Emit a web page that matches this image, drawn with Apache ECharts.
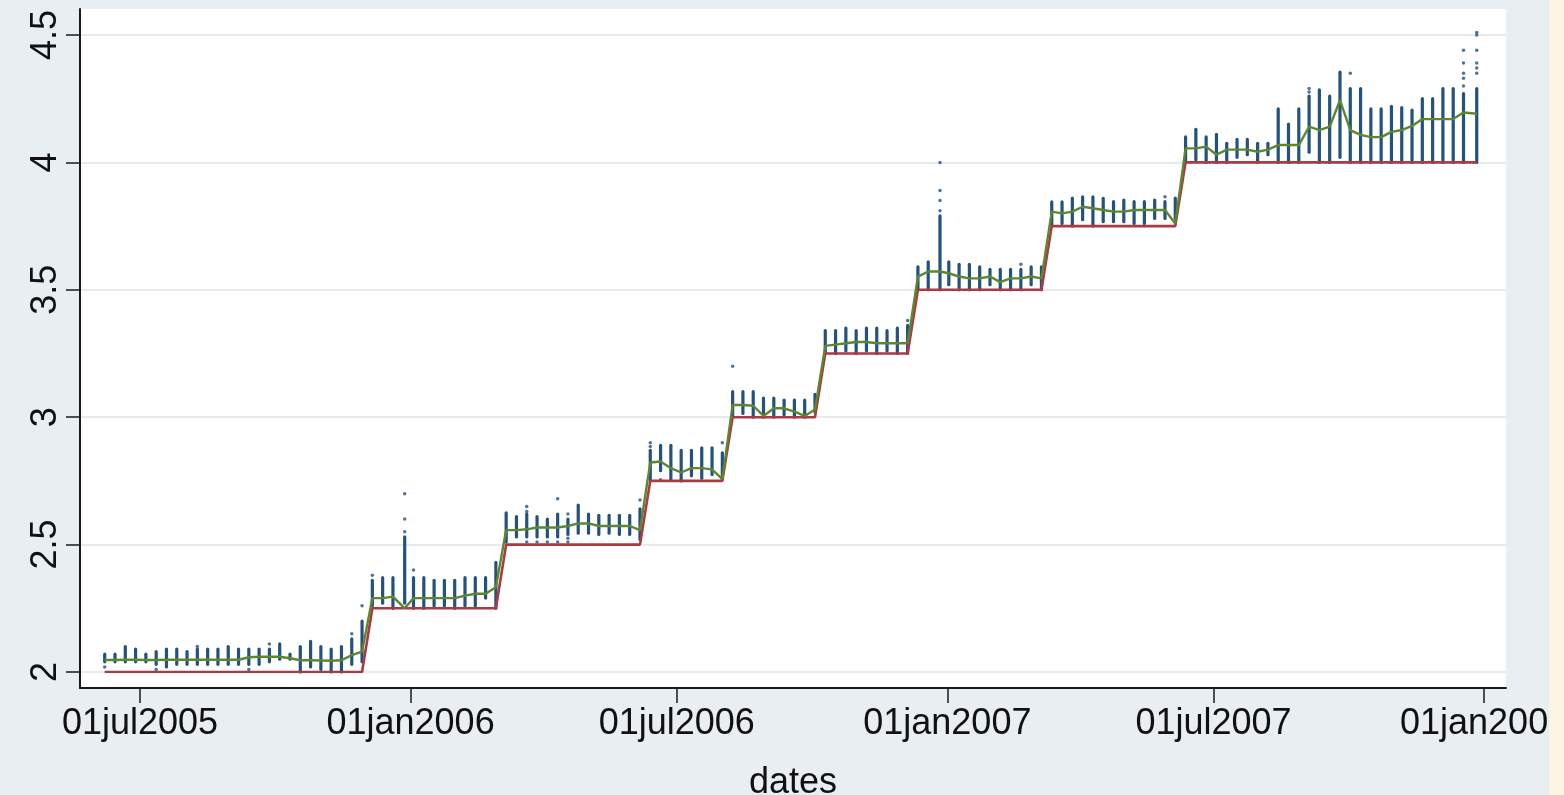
<!DOCTYPE html>
<html>
<head>
<meta charset="utf-8">
<script src="https://cdn.jsdelivr.net/npm/echarts@6/dist/echarts.min.js"></script>
<style>
  html, body { margin: 0; padding: 0; background: #e8eef1; }
  #chart { width: 1564px; height: 795px; }
</style>
</head>
<body>
<div id="chart"></div>
<script>
// Weekly main refinancing operations: allotment dates
const auctionDates = [
  '2005-06-07','2005-06-14','2005-06-21','2005-06-28','2005-07-05','2005-07-12','2005-07-19','2005-07-26',
  '2005-08-02','2005-08-09','2005-08-16','2005-08-23','2005-08-30','2005-09-06','2005-09-13','2005-09-20',
  '2005-09-27','2005-10-04','2005-10-11','2005-10-18','2005-10-25','2005-11-01','2005-11-08','2005-11-15',
  '2005-11-22','2005-11-29','2005-12-06','2005-12-13','2005-12-20','2005-12-28','2006-01-03','2006-01-10',
  '2006-01-17','2006-01-24','2006-01-31','2006-02-07','2006-02-14','2006-02-21','2006-02-28','2006-03-07',
  '2006-03-14','2006-03-21','2006-03-28','2006-04-04','2006-04-11','2006-04-18','2006-04-25','2006-05-02',
  '2006-05-09','2006-05-16','2006-05-23','2006-05-30','2006-06-06','2006-06-13','2006-06-20','2006-06-27',
  '2006-07-04','2006-07-11','2006-07-18','2006-07-25','2006-08-01','2006-08-08','2006-08-15','2006-08-22',
  '2006-08-29','2006-09-05','2006-09-12','2006-09-19','2006-09-26','2006-10-03','2006-10-10','2006-10-17',
  '2006-10-24','2006-10-31','2006-11-07','2006-11-14','2006-11-21','2006-11-28','2006-12-05','2006-12-12',
  '2006-12-19','2006-12-27','2007-01-02','2007-01-09','2007-01-16','2007-01-23','2007-01-30','2007-02-06',
  '2007-02-13','2007-02-20','2007-02-27','2007-03-06','2007-03-13','2007-03-20','2007-03-27','2007-04-03',
  '2007-04-10','2007-04-17','2007-04-24','2007-05-01','2007-05-08','2007-05-15','2007-05-22','2007-05-29',
  '2007-06-05','2007-06-12','2007-06-19','2007-06-26','2007-07-03','2007-07-10','2007-07-17','2007-07-24',
  '2007-07-31','2007-08-07','2007-08-14','2007-08-21','2007-08-28','2007-09-04','2007-09-11','2007-09-18',
  '2007-09-25','2007-10-02','2007-10-09','2007-10-16','2007-10-23','2007-10-30','2007-11-06','2007-11-13',
  '2007-11-20','2007-11-27','2007-12-04','2007-12-11','2007-12-18','2007-12-27'
];

// Minimum bid rate (policy rate) at each operation
const minBidRate = [
  2.00,2.00,2.00,2.00,2.00,2.00,2.00,2.00,2.00,2.00,2.00,2.00,2.00,2.00,2.00,2.00,2.00,2.00,2.00,2.00,2.00,2.00,2.00,2.00,2.00,2.00,
  2.25,2.25,2.25,2.25,2.25,2.25,2.25,2.25,2.25,2.25,2.25,2.25,2.25,
  2.50,2.50,2.50,2.50,2.50,2.50,2.50,2.50,2.50,2.50,2.50,2.50,2.50,2.50,
  2.75,2.75,2.75,2.75,2.75,2.75,2.75,2.75,
  3.00,3.00,3.00,3.00,3.00,3.00,3.00,3.00,3.00,
  3.25,3.25,3.25,3.25,3.25,3.25,3.25,3.25,3.25,
  3.50,3.50,3.50,3.50,3.50,3.50,3.50,3.50,3.50,3.50,3.50,3.50,3.50,
  3.75,3.75,3.75,3.75,3.75,3.75,3.75,3.75,3.75,3.75,3.75,3.75,3.75,
  4.00,4.00,4.00,4.00,4.00,4.00,4.00,4.00,4.00,4.00,4.00,4.00,4.00,4.00,4.00,4.00,4.00,4.00,4.00,4.00,
  4.00,4.00,4.00,4.00,4.00,4.00,4.00,4.00,4.00
];

// Weighted average allotment rate
const meanRate = [
  2.047,2.047,2.048,2.048,2.047,2.047,2.048,2.048,2.048,2.048,2.048,2.048,2.048,2.048,2.058,2.060,2.060,2.060,2.054,2.046,2.046,2.045,2.044,2.046,2.066,2.080,
  2.290,2.290,2.296,2.250,2.290,2.290,2.290,2.290,2.290,2.300,2.307,2.307,2.333,
  2.557,2.557,2.560,2.567,2.567,2.567,2.573,2.583,2.583,2.573,2.573,2.573,2.573,2.557,
  2.822,2.826,2.800,2.783,2.800,2.800,2.795,2.757,
  3.048,3.048,3.045,3.005,3.035,3.035,3.022,3.005,3.030,
  3.280,3.285,3.290,3.295,3.295,3.290,3.290,3.290,3.290,
  3.552,3.572,3.572,3.565,3.552,3.545,3.545,3.552,3.530,3.545,3.545,3.552,3.545,
  3.807,3.800,3.807,3.826,3.820,3.813,3.807,3.807,3.813,3.813,3.813,3.813,3.760,
  4.055,4.055,4.062,4.030,4.050,4.050,4.050,4.042,4.050,4.068,4.068,4.068,4.140,4.127,4.140,4.244,4.127,4.108,4.099,4.099,
  4.120,4.127,4.143,4.170,4.170,4.170,4.170,4.196,4.191
];

// Range of submitted bid rates (lowest / highest of the dense block)
const bidLow = [
  2.04,2.04,2.04,2.04,2.04,2.03,2.02,2.03,2.03,2.03,2.03,2.03,2.03,2.03,2.03,2.03,2.04,2.05,2.05,2.00,2.02,2.01,2.00,2.00,2.03,2.04,
  2.26,2.27,2.25,2.27,2.25,2.25,2.26,2.26,2.25,2.26,2.26,2.29,2.25,
  2.51,2.53,2.53,2.53,2.53,2.53,2.54,2.545,2.545,2.54,2.545,2.54,2.54,2.52,
  2.755,2.79,2.755,2.75,2.77,2.76,2.775,2.755,
  3.00,3.015,3.00,3.00,3.00,3.01,3.00,3.00,3.02,
  3.25,3.25,3.26,3.25,3.26,3.25,3.26,3.25,3.25,
  3.50,3.50,3.50,3.52,3.50,3.50,3.50,3.52,3.50,3.50,3.50,3.52,3.50,
  3.75,3.76,3.75,3.775,3.75,3.767,3.767,3.767,3.76,3.76,3.78,3.78,3.78,
  4.00,4.01,4.00,4.00,4.00,4.02,4.03,4.00,4.03,4.00,4.00,4.00,4.04,4.00,4.00,4.02,4.00,4.00,4.00,4.00,
  4.00,4.00,4.00,4.00,4.00,4.00,4.00,4.00,4.00
];
const bidHigh = [
  2.07,2.07,2.10,2.09,2.07,2.08,2.09,2.09,2.08,2.09,2.09,2.09,2.10,2.09,2.09,2.09,2.09,2.11,2.07,2.10,2.12,2.10,2.09,2.10,2.13,2.20,
  2.36,2.37,2.37,2.53,2.37,2.37,2.36,2.36,2.36,2.37,2.37,2.37,2.43,
  2.625,2.61,2.62,2.61,2.60,2.62,2.60,2.655,2.62,2.615,2.615,2.615,2.615,2.64,
  2.87,2.89,2.89,2.87,2.87,2.88,2.88,2.86,
  3.10,3.10,3.10,3.075,3.075,3.067,3.067,3.067,3.09,
  3.34,3.34,3.35,3.34,3.35,3.35,3.34,3.35,3.36,
  3.59,3.61,3.79,3.61,3.60,3.60,3.59,3.58,3.58,3.58,3.58,3.59,3.59,
  3.845,3.845,3.86,3.865,3.865,3.859,3.846,3.852,3.846,3.846,3.852,3.846,3.86,
  4.10,4.13,4.10,4.11,4.075,4.09,4.09,4.075,4.075,4.21,4.15,4.21,4.26,4.285,4.26,4.354,4.29,4.29,4.21,4.21,
  4.22,4.215,4.205,4.25,4.25,4.29,4.29,4.27,4.29
];

// Isolated bids outside the dense block: [date, rate]
const isolatedBids = [
  ['2005-06-07',2.02],['2005-07-12',2.01],['2005-08-09',2.10],['2005-09-13',2.01],['2005-09-27',2.11],
  ['2005-11-22',2.15],['2005-11-29',2.26],['2005-12-06',2.38],
  ['2005-12-28',2.70],['2005-12-28',2.60],['2005-12-28',2.55],['2006-01-03',2.40],
  ['2006-03-21',2.65],['2006-03-21',2.63],['2006-03-21',2.51],['2006-03-28',2.51],['2006-04-04',2.51],
  ['2006-04-11',2.68],['2006-04-11',2.51],['2006-04-18',2.62],['2006-04-18',2.525],['2006-04-18',2.51],
  ['2006-06-06',2.675],['2006-06-13',2.90],['2006-06-13',2.885],['2006-06-20',2.755],['2006-08-01',2.90],
  ['2006-08-08',3.20],['2006-12-05',3.38],
  ['2006-12-27',4.00],['2006-12-27',3.89],['2006-12-27',3.85],['2006-12-27',3.81],
  ['2007-02-20',3.60],['2007-05-29',3.865],
  ['2007-09-04',4.29],['2007-09-04',4.276],['2007-10-02',4.35],
  ['2007-12-18',4.44],['2007-12-18',4.39],['2007-12-18',4.35],['2007-12-18',4.33],['2007-12-18',4.30],
  ['2007-12-27',4.51],['2007-12-27',4.50],['2007-12-27',4.44],['2007-12-27',4.39],['2007-12-27',4.37],['2007-12-27',4.35]
];

// Axis ticks
const xTickDates = ['2005-07-01','2006-01-01','2006-07-01','2007-01-01','2007-07-01','2008-01-01'];
const yTicks = [2, 2.5, 3, 3.5, 4, 4.5];
const xAxisTitle = 'dates';

const MONTHS = ['jan','feb','mar','apr','may','jun','jul','aug','sep','oct','nov','dec'];
const DAY = 86400000;
const ts = s => Date.parse(s + 'T00:00:00Z');
const stataDate = v => {
  const d = new Date(Math.round(v / DAY) * DAY);
  return String(d.getUTCDate()).padStart(2, '0') + MONTHS[d.getUTCMonth()] + d.getUTCFullYear();
};

const X_ORIGIN = ts('2005-07-01');
const X_MIN = X_ORIGIN - 40.8 * DAY;
const X_MAX = X_ORIGIN + 928.9 * DAY;

const NAVY = '#24527e';
const MAROON = '#ab3a44';
const GREEN = '#5c872e';
const FONT = "'Liberation Sans', Arial, sans-serif";

const dateTs = auctionDates.map(ts);
const xTickTs = xTickDates.map(ts);

const chart = echarts.init(document.getElementById('chart'), null, { renderer: 'canvas' });

chart.setOption({
  animation: false,
  backgroundColor: '#e8eef1',
  textStyle: { fontFamily: FONT },
  grid: [
    // plot region (white), carrying the axis lines and date ticks
    { left: 80, right: 58, top: 9, bottom: 107, show: true, backgroundColor: '#ffffff', borderWidth: 0,
      containLabel: false, outerBoundsMode: 'none' },
    // data region: 2.0 .. 4.5
    { left: 80, right: 58, top: 35, bottom: 123, containLabel: false, outerBoundsMode: 'none' }
  ],
  xAxis: [
    {
      gridIndex: 0, type: 'value', min: X_MIN, max: X_MAX, scale: true,
      axisLine: { show: true, lineStyle: { color: '#1a1a1a', width: 2 } },
      axisTick: { show: true, length: 15, customValues: xTickTs, lineStyle: { color: '#1a1a1a', width: 1.5 } },
      axisLabel: {
        customValues: xTickTs, formatter: v => stataDate(v),
        fontSize: 36, color: '#111', margin: 18, fontFamily: FONT, hideOverlap: false
      },
      splitLine: { show: false },
      name: xAxisTitle, nameLocation: 'middle', nameGap: 77,
      nameTextStyle: { fontSize: 36, color: '#111', fontFamily: FONT }
    },
    { gridIndex: 1, type: 'value', min: X_MIN, max: X_MAX, scale: true, show: false }
  ],
  yAxis: [
    {
      gridIndex: 0, type: 'value', min: 0, max: 1,
      axisLine: { show: true, lineStyle: { color: '#1a1a1a', width: 2 } },
      axisTick: { show: false }, axisLabel: { show: false }, splitLine: { show: false }
    },
    {
      gridIndex: 1, type: 'value', min: yTicks[0], max: yTicks[yTicks.length - 1], interval: 0.5,
      axisLine: { show: false },
      axisTick: { show: true, length: 14, lineStyle: { color: '#1a1a1a', width: 1.5 } },
      axisLabel: { rotate: 90, fontSize: 36, color: '#111', margin: 16, fontFamily: FONT },
      splitLine: { show: true, lineStyle: { color: '#e4ecef', width: 2 } }
    }
  ],
  series: [
    {
      type: 'custom', xAxisIndex: 1, yAxisIndex: 1, z: 2,
      data: dateTs.map((t, i) => [t, bidLow[i], bidHigh[i]]),
      encode: { x: 0, y: [1, 2] },
      renderItem: (params, api) => {
        const t = api.value(0);
        const a = api.coord([t, api.value(1)]);
        const b = api.coord([t, api.value(2)]);
        return {
          type: 'line',
          shape: { x1: a[0], y1: a[1], x2: b[0], y2: b[1] },
          style: { stroke: NAVY, lineWidth: 3.2, lineCap: 'round' }
        };
      }
    },
    {
      type: 'scatter', xAxisIndex: 1, yAxisIndex: 1, z: 2, clip: false,
      symbol: 'circle', symbolSize: 3.5,
      itemStyle: { color: NAVY },
      data: isolatedBids.map(p => [ts(p[0]), p[1]])
    },
    {
      type: 'line', xAxisIndex: 1, yAxisIndex: 1, z: 3,
      showSymbol: false, symbol: 'none',
      lineStyle: { color: MAROON, width: 2.6 },
      data: dateTs.map((t, i) => [t, minBidRate[i]])
    },
    {
      type: 'line', xAxisIndex: 1, yAxisIndex: 1, z: 4,
      showSymbol: false, symbol: 'none',
      lineStyle: { color: GREEN, width: 2.4 },
      data: dateTs.map((t, i) => [t, meanRate[i]])
    }
  ],
  graphic: [
    { type: 'rect', z: 100, shape: { x: 1549, y: 0, width: 15, height: 795 }, style: { fill: '#fdf5e4' } }
  ]
});
</script>
</body>
</html>
